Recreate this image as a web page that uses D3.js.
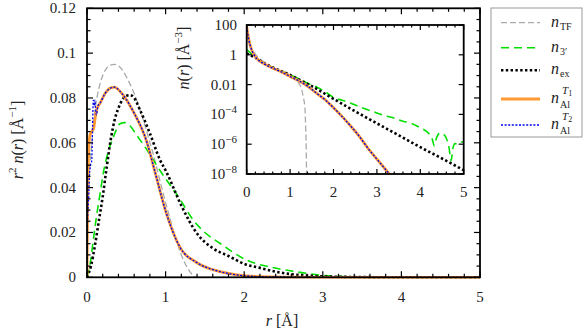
<!DOCTYPE html>
<html>
<head>
<meta charset="utf-8">
<script src="https://cdn.jsdelivr.net/npm/d3@7"></script>
<style>
  body { margin: 0; background: #fff; }
  svg text { font-family: "Liberation Serif", "DejaVu Serif", serif; fill: #222; }
</style>
</head>
<body>
<svg id="chart" width="584" height="332"></svg>
<script>
// ---- main panel: r^2 n(r) ----
var rTF   = [0, 0.01, 0.03, 0.05, 0.1, 0.15, 0.2, 0.25, 0.3, 0.35, 0.4, 0.45, 0.5, 0.6, 0.7, 0.76, 0.85, 0.95, 1.05, 1.15, 1.25, 1.3, 1.35, 1.375];
var vTF   = [0, 0.025, 0.045, 0.055, 0.074, 0.084, 0.09, 0.0933, 0.0947, 0.095, 0.0943, 0.0925, 0.0895, 0.082, 0.072, 0.065, 0.054, 0.040, 0.027, 0.015, 0.006, 0.003, 0.0008, 0];

var r3    = [0, 0.04, 0.08, 0.12, 0.165, 0.21, 0.27, 0.335, 0.42, 0.48, 0.55, 0.63, 0.75, 0.886, 0.95, 1.01, 1.18, 1.35, 1.5, 1.69, 2.03, 2.41, 2.71, 3.0, 3.3, 3.6, 4.0, 5.0];
var v3    = [0, 0.006, 0.0166, 0.027, 0.037, 0.047, 0.056, 0.0625, 0.0685, 0.069, 0.0675, 0.0635, 0.0575, 0.050, 0.0465, 0.0435, 0.035, 0.0256, 0.020, 0.0152, 0.0077, 0.004, 0.0022, 0.0008, 0.0003, 0.0001, 0, 0];

var rEx   = [0, 0.05, 0.1, 0.15, 0.2, 0.25, 0.3, 0.35, 0.4, 0.45, 0.5, 0.55, 0.6, 0.675, 0.8, 0.93, 1.01, 1.2, 1.4, 1.6, 1.8, 2.0, 2.2, 2.4, 2.6, 2.8, 3.0, 3.5, 4.0, 5.0];
var vEx   = [0, 0.005, 0.014, 0.025, 0.036, 0.049, 0.061, 0.070, 0.0755, 0.0792, 0.081, 0.0813, 0.080, 0.0746, 0.0642, 0.0523, 0.047, 0.032, 0.0195, 0.013, 0.0095, 0.006, 0.0042, 0.0025, 0.0014, 0.0008, 0.0004, 0.0001, 0, 0];

var rT1   = [0, 0.004, 0.01, 0.02, 0.035, 0.06, 0.085, 0.1, 0.12, 0.165, 0.23, 0.31, 0.35, 0.38, 0.46, 0.59, 0.76, 0.865, 1.01, 1.18, 1.4, 1.61, 1.8, 2.03, 2.3, 2.6, 3.0, 3.5, 4.0, 5.0];
var vT1   = [0, 0.02, 0.04, 0.055, 0.063, 0.065, 0.0665, 0.070, 0.0745, 0.0776, 0.082, 0.0846, 0.0848, 0.0843, 0.0813, 0.0739, 0.0605, 0.047, 0.0285, 0.0136, 0.0065, 0.0033, 0.0017, 0.0006, 0.0002, 0.0001, 0, 0, 0, 0];

var rT2   = [0, 0.003, 0.01, 0.02, 0.03, 0.045, 0.06, 0.07, 0.08, 0.09, 0.1, 0.11, 0.12, 0.14, 0.165, 0.23, 0.31, 0.35, 0.38, 0.46, 0.59, 0.76, 0.865, 1.01, 1.18, 1.4, 1.61, 1.8, 2.03, 2.3, 2.6, 3.0, 3.5, 4.0, 5.0];
var vT2   = [0, 0.02, 0.028, 0.035, 0.045, 0.05, 0.052, 0.066, 0.079, 0.0765, 0.079, 0.0745, 0.0725, 0.0765, 0.0776, 0.082, 0.0846, 0.0848, 0.0843, 0.0813, 0.0739, 0.0605, 0.047, 0.0285, 0.0136, 0.0065, 0.0033, 0.0017, 0.0006, 0.0002, 0.0001, 0, 0, 0, 0];

// ---- inset: n(r), log scale ----
var rTFin = [0, 0.1, 0.2, 0.4, 0.6, 0.8, 1.0, 1.1, 1.2, 1.27, 1.3, 1.34, 1.36, 1.375, 1.382];
var nTFin = [80, 3.2, 1.1, 0.32, 0.14, 0.079, 0.045, 0.028, 0.0126, 4.4e-3, 1.6e-3, 3.2e-4, 1e-5, 1e-7, 1e-9];

var r3in  = [0, 0.1, 0.2, 0.4, 0.6, 0.8, 1.0, 1.2, 1.4, 1.6, 1.8, 2.0, 2.2, 2.4, 2.6, 2.8, 3.0, 3.2, 3.4, 3.6, 3.8, 4.0, 4.1, 4.2, 4.28, 4.32, 4.37, 4.45, 4.52, 4.6, 4.66, 4.71, 4.75, 4.8, 4.86, 4.92, 5.0];
var n3in  = [2.2, 1.26, 0.71, 0.28, 0.14, 0.079, 0.045, 0.025, 0.0126, 7.1e-3, 3.5e-3, 1.4e-3, 8.9e-4, 5.6e-4, 3.2e-4, 2.0e-4, 1.26e-4, 7.9e-5, 5.6e-5, 3.5e-5, 2.5e-5, 1.26e-5, 8.9e-6, 5.0e-6, 2.0e-6, 7.9e-7, 2.5e-6, 5.6e-6, 5.0e-6, 2.5e-6, 6.3e-7, 7.9e-8, 5.0e-7, 1.1e-6, 1.0e-6, 1.4e-6, 1.4e-6];

var rExin = [0, 0.1, 0.2, 0.4, 0.6, 0.8, 1.0, 1.2, 1.5, 2.0, 2.5, 3.0, 3.5, 4.0, 4.5, 5.0];
var nExin = [1.26, 0.89, 0.63, 0.28, 0.14, 0.079, 0.045, 0.022, 7.9e-3, 1.1e-3, 1.6e-4, 2.5e-5, 4.0e-6, 6.3e-7, 1.1e-7, 1.8e-8];

var rTin  = [0, 0.05, 0.1, 0.15, 0.25, 0.4, 0.6, 0.8, 1.0, 1.2, 1.4, 1.6, 1.8, 2.0, 2.2, 2.4, 2.6, 2.8, 3.0, 3.2, 3.4];
var nTin  = [79, 10, 2.8, 1.26, 0.5, 0.25, 0.126, 0.071, 0.035, 0.018, 7.9e-3, 2.8e-3, 1.0e-3, 2.8e-4, 7.1e-5, 1.6e-5, 3.2e-6, 5.0e-7, 1.0e-7, 2.0e-8, 4e-9];

var xTicks = [0, 1, 2, 3, 4, 5];
var yTicks = [0, 0.02, 0.04, 0.06, 0.08, 0.1, 0.12];
var insetYTicks = [1e2, 1, 1e-2, 1e-4, 1e-6, 1e-8];
var insetYLabels = [["100"], ["1"], ["0.01"], ["10", "\u22124"], ["10", "\u22126"], ["10", "\u22128"]];

var svg = d3.select("#chart");

var x = d3.scaleLinear().domain([0, 5]).range([87, 480]);
var y = d3.scaleLinear().domain([0, 0.12]).range([277.3, 8.3]);

var xi = d3.scaleLinear().domain([0, 5]).range([246.7, 463.7]);
var yi = d3.scaleLog().domain([1e-8, 1e2]).range([174, 25]);

function zip(a, b) { return a.map(function(d, i) { return [d, b[i]]; }); }

var series = [
  {key: "TF", color: "#aaaaaa", w: 1.3, dash: "6,3"},
  {key: "3",  color: "#00e000", w: 1.6, dash: "8,5"},
  {key: "ex", color: "#000000", w: 2.6, dash: "2.4,2.4"},
  {key: "T1", color: "#ff9933", w: 2.8, dash: null},
  {key: "T2", color: "#0000ee", w: 1.3, dash: "2,1.6"}
];
var mainData = {TF: zip(rTF, vTF), "3": zip(r3, v3), ex: zip(rEx, vEx), T1: zip(rT1, vT1), T2: zip(rT2, vT2)};
var insetData = {TF: zip(rTFin, nTFin), "3": zip(r3in, n3in), ex: zip(rExin, nExin), T1: zip(rTin, nTin), T2: zip(rTin, nTin)};

var defs = svg.append("defs");
defs.append("clipPath").attr("id", "clipMain").append("rect")
  .attr("x", x(0)).attr("y", y(0.12)).attr("width", x(5) - x(0)).attr("height", y(0) - y(0.12) + 1.5);
defs.append("clipPath").attr("id", "clipInset").append("rect")
  .attr("x", xi(0)).attr("y", yi(1e2)).attr("width", xi(5) - xi(0)).attr("height", yi(1e-8) - yi(1e2));

function styleLine(sel, s) {
  sel.attr("fill", "none").attr("stroke", s.color).attr("stroke-width", s.w)
    .attr("stroke-linecap", "butt").attr("stroke-linejoin", "round");
  if (s.dash) sel.attr("stroke-dasharray", s.dash);
}

// main curves
var lineMain = d3.line().x(function(d) { return x(d[0]); }).y(function(d) { return y(d[1]); }).curve(d3.curveMonotoneX);
var gMain = svg.append("g").attr("clip-path", "url(#clipMain)");
series.forEach(function(s) {
  gMain.append("path").datum(mainData[s.key]).attr("d", lineMain).call(styleLine, s);
});

// ticks on all four sides, pointing inward
function frameTicks(g, xs, ys, xMaj, xMin, yMaj, yMin, majLen, minLen) {
  var x0 = xs.range()[0], x1 = xs.range()[1], yb = ys.range()[0], yt = ys.range()[1];
  function tk(list, len) {
    list.forEach(function(v) {
      var px = xs(v);
      g.append("line").attr("x1", px).attr("x2", px).attr("y1", yb).attr("y2", yb - len);
      g.append("line").attr("x1", px).attr("x2", px).attr("y1", yt).attr("y2", yt + len);
    });
  }
  function tky(list, len) {
    list.forEach(function(v) {
      var py = ys(v);
      g.append("line").attr("x1", x0).attr("x2", x0 + len).attr("y1", py).attr("y2", py);
      g.append("line").attr("x1", x1).attr("x2", x1 - len).attr("y1", py).attr("y2", py);
    });
  }
  tk(xMaj, majLen); tk(xMin, minLen); tky(yMaj, majLen); tky(yMin, minLen);
  g.selectAll("line").attr("stroke", "#000").attr("stroke-width", 1.2);
  g.append("rect").attr("x", x0).attr("y", yt).attr("width", x1 - x0).attr("height", yb - yt)
    .attr("fill", "none").attr("stroke", "#000").attr("stroke-width", 1.8);
}

var minorX = d3.range(0, 5.001, 0.2).filter(function(v) { return Math.abs(v - Math.round(v)) > 1e-6; });
var minorY = d3.range(0, 0.1201, 0.005).filter(function(v) { return Math.abs(v / 0.02 - Math.round(v / 0.02)) > 1e-6; });
frameTicks(svg.append("g"), x, y, xTicks, minorX, yTicks, minorY, 6, 3.5);

// main tick labels
svg.append("g").selectAll("text").data(xTicks).join("text")
  .attr("x", function(d) { return x(d); }).attr("y", 302)
  .attr("text-anchor", "middle").attr("font-size", 15).text(function(d) { return d; });
svg.append("g").selectAll("text").data(yTicks).join("text")
  .attr("x", 76).attr("y", function(d) { return y(d) + 5; })
  .attr("text-anchor", "end").attr("font-size", 15)
  .text(function(d) { return d === 0 ? "0" : String(+d.toFixed(2)); });

// main axis titles
var xl = svg.append("text").attr("x", 282).attr("y", 326).attr("text-anchor", "middle").attr("font-size", 16);
xl.append("tspan").attr("font-style", "italic").text("r");
xl.append("tspan").text("  [\u00c5]");

var yl = svg.append("text").attr("transform", "translate(23,140) rotate(-90)").attr("text-anchor", "middle").attr("font-size", 16);
yl.append("tspan").attr("font-style", "italic").text("r");
yl.append("tspan").attr("font-size", 11).attr("dy", -7).text("2");
yl.append("tspan").attr("dy", 7).text(" ");
yl.append("tspan").attr("font-style", "italic").text("n");
yl.append("tspan").text("(");
yl.append("tspan").attr("font-style", "italic").text("r");
yl.append("tspan").text(")   [\u00c5");
yl.append("tspan").attr("font-size", 11).attr("dy", -7).text("\u22121");
yl.append("tspan").attr("dy", 7).text("]");

// ---- inset ----
svg.append("rect").attr("x", xi(0)).attr("y", yi(1e2)).attr("width", xi(5) - xi(0)).attr("height", yi(1e-8) - yi(1e2)).attr("fill", "#fff");
var lineInset = d3.line().x(function(d) { return xi(d[0]); }).y(function(d) { return yi(d[1]); }).curve(d3.curveMonotoneX);
var gIn = svg.append("g").attr("clip-path", "url(#clipInset)");
series.forEach(function(s) {
  gIn.append("path").datum(insetData[s.key]).attr("d", lineInset).call(styleLine, s);
});
frameTicks(svg.append("g"), xi, yi, xTicks, minorX, insetYTicks, [], 5, 2.5);

svg.append("g").selectAll("text").data(xTicks).join("text")
  .attr("x", function(d) { return xi(d); }).attr("y", 197)
  .attr("text-anchor", "middle").attr("font-size", 15).text(function(d) { return d; });
insetYTicks.forEach(function(v, i) {
  var lab = insetYLabels[i];
  var t = svg.append("text").attr("x", 237).attr("y", yi(v) + 5).attr("text-anchor", "end").attr("font-size", 15);
  t.append("tspan").text(lab[0]);
  if (lab[1]) t.append("tspan").attr("font-size", 11).attr("dy", -6).text(lab[1]);
});
var il = svg.append("text").attr("transform", "translate(189,58) rotate(-90)").attr("text-anchor", "middle").attr("font-size", 16);
il.append("tspan").attr("font-style", "italic").text("n");
il.append("tspan").text("(");
il.append("tspan").attr("font-style", "italic").text("r");
il.append("tspan").text(")   [\u00c5");
il.append("tspan").attr("font-size", 11).attr("dy", -7).text("\u22123");
il.append("tspan").attr("dy", 7).text("]");

// ---- legend ----
var lg = svg.append("g");
lg.append("rect").attr("x", 491).attr("y", 8).attr("width", 91).attr("height", 129)
  .attr("fill", "#fff").attr("stroke", "#999").attr("stroke-width", 1);
var legY = [22.7, 47.7, 70.3, 99, 125];
series.forEach(function(s, i) {
  lg.append("line").attr("x1", 501).attr("x2", 540).attr("y1", legY[i]).attr("y2", legY[i]).call(styleLine, s);
});
function nLabel(yc, sub, sup) {
  lg.append("text").attr("x", 551).attr("y", yc + 4).attr("font-size", 16)
    .attr("font-style", "italic").text("n");
  if (sub) lg.append("text").attr("x", 560).attr("y", yc + (sup ? 9 : 7)).attr("font-size", 10).text(sub);
  if (sup) {
    var s = lg.append("text").attr("x", 562).attr("y", yc - 5).attr("font-size", 11);
    s.append("tspan").attr("font-style", "italic").text("T");
    s.append("tspan").attr("font-size", 8).attr("dy", 2).text(sup);
  }
}
nLabel(legY[0], "TF");
nLabel(legY[1], "3\u2032");
nLabel(legY[2], "ex");
nLabel(legY[3], "Al", "1");
nLabel(legY[4], "Al", "2");
</script>
</body>
</html>
